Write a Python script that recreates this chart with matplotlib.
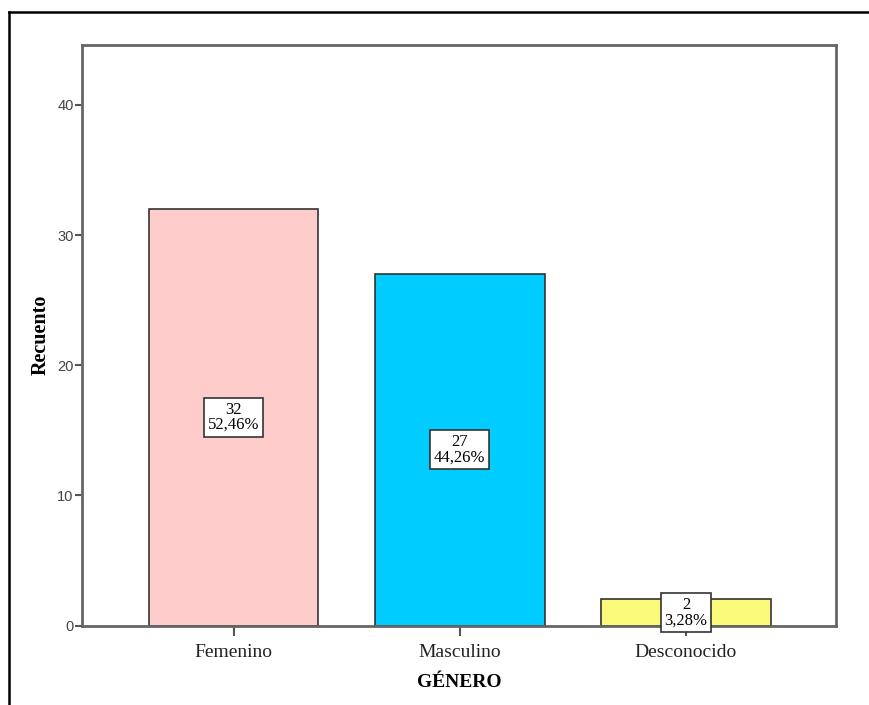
import matplotlib.pyplot as plt
import matplotlib.lines as mlines

# Datos: recuento por género
categorias = ['Femenino', 'Masculino', 'Desconocido']
recuento = [32, 27, 2]
porcentajes = ['52,46%', '44,26%', '3,28%']
colores = ['#ffcccc', '#00ccff', '#fbf97a']

fig = plt.figure(figsize=(8.69, 7.05), dpi=100)
ax = fig.add_axes([82 / 869, 1 - 625.5 / 705, (836 - 82) / 869, (625.5 - 45) / 705])

pos = range(len(categorias))
ax.bar(pos, recuento, width=0.75, color=colores, edgecolor='#333333', linewidth=1.2, zorder=2)

# Etiquetas con recuento y porcentaje en el centro de cada barra
for x, v, p in zip(pos, recuento, porcentajes):
    ax.text(x, v / 2, f'{v}\n{p}', ha='center', va='center', fontsize=12,
            family='Liberation Serif', linespacing=0.95, zorder=3,
            bbox=dict(boxstyle='square,pad=0.22', facecolor='white', edgecolor='#333333', linewidth=1.2))

ax.set_xlim(-0.67, 2.663)
ax.set_ylim(0, 44.6)
ax.set_yticks([0, 10, 20, 30, 40])
ax.set_xticks(list(pos))
ax.set_xticklabels(categorias, family='Liberation Serif', fontsize=14, color='#222222')
for lbl in ax.get_yticklabels():
    lbl.set_family('Liberation Sans')
    lbl.set_fontsize(10.5)
    lbl.set_color('#444444')
ax.tick_params(axis='y', direction='out', length=5, width=1.5, color='#555555', pad=1)
ax.tick_params(axis='x', direction='out', length=7, width=1.5, color='#555555', pad=6)

for s in ax.spines.values():
    s.set_color('#666666')
    s.set_linewidth(2)

ax.set_ylabel('Recuento', family='Liberation Serif', fontweight='bold', fontsize=14.5, labelpad=5)
ax.set_xlabel('GÉNERO', family='Liberation Serif', fontweight='bold', fontsize=14, labelpad=10)

# Marco exterior (solo bordes superior e izquierdo visibles)
fig.add_artist(mlines.Line2D([9 / 869, 9 / 869], [0, 1 - 12 / 705], transform=fig.transFigure,
                             color='black', linewidth=1.8))
fig.add_artist(mlines.Line2D([9 / 869, 1], [1 - 12 / 705, 1 - 12 / 705], transform=fig.transFigure,
                             color='black', linewidth=1.8))

fig.savefig('out.png', dpi=100)
